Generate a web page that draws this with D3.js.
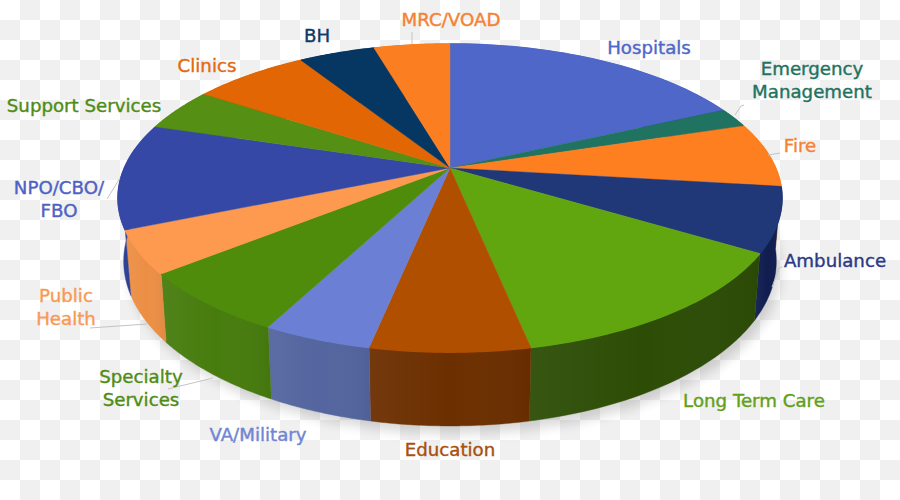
<!DOCTYPE html>
<html><head><meta charset="utf-8">
<script src="https://cdn.jsdelivr.net/npm/d3@7/dist/d3.min.js"></script>
<style>html,body{margin:0;padding:0;background:#fff}svg{display:block}text{font-family:"DejaVu Sans",sans-serif}</style>
</head><body><svg id="c" width="900" height="500"></svg>
<script>
const categories = ["Hospitals","Emergency Management","Fire","Ambulance","Long Term Care","Education","VA/Military","Specialty Services","Public Health","NPO/CBO/FBO","Support Services","Clinics","BH","MRC/VOAD"];
const shares = [18.08,2.06,6.78,6.75,13.11,6.44,4.42,6.56,4.47,11.08,4.53,6.78,4.47,4.47];
const topColors = ["#4f67c8","#1f7360","#fd7f20","#203778","#62a60f","#b14f00","#6b80d4","#4f8c0c","#fd9a4f","#3548a5","#558f13","#e26603","#063763","#fb7e20"];
const wallColors = ["#33437f","#124238","#b05510","#0f1d4f","#2d4d06","#6c2f00","#54659f","#477c0e","#ec8f45","#2a3c90","#3a630c","#9a4502","#03223e","#aa5512"];
const labelColors = ["#4f67c8","#1f7360","#f58233","#2a3a85","#62a01a","#a8500f","#7085d2","#4f8c14","#f89a55","#4f62c4","#4f8c14","#e26a10","#0f3a64","#f58233"];
const labelLines = [["Hospitals"],["Emergency","Management"],["Fire"],["Ambulance"],["Long Term Care"],["Education"],["VA/Military"],["Specialty","Services"],["Public","Health"],["NPO/CBO/","FBO"],["Support Services"],["Clinics"],["BH"],["MRC/VOAD"]];
const labelX = [649,812,800,835,754,450,258,141,66,59,84,207,317,451];
const labelY = [48,69,146,261,401,450,435,377,296,188,106,66,36,20];
const leaders = [[[735,115],[741,106],[744,105]],[[768,155],[780,153]],[[772,287],[779,268],[782,267]],[[168,389],[213,378]],[[90,328],[147,324]],[[107,199],[120,178]],[[412,32],[412,44]]];

const svg = d3.select("#c");
const defs = svg.append("defs");
const pat = defs.append("pattern").attr("id","chk").attr("width",40).attr("height",40).attr("patternUnits","userSpaceOnUse");
pat.append("rect").attr("width",40).attr("height",40).attr("fill","#fff");
pat.append("rect").attr("x",20).attr("y",0).attr("width",20).attr("height",20).attr("fill","#f0f0f0");
pat.append("rect").attr("x",0).attr("y",20).attr("width",20).attr("height",20).attr("fill","#f0f0f0");
svg.append("rect").attr("width",900).attr("height",500).attr("fill","url(#chk)");
defs.append("filter").attr("id","blur").attr("x","-20%").attr("y","-20%").attr("width","140%").attr("height","140%")
  .append("feGaussianBlur").attr("stdDeviation",6);
const wg = defs.append("linearGradient").attr("id","sheen").attr("x1",0).attr("x2",1).attr("y1",0).attr("y2",0);
[[0,"#fff",0.05],[0.5,"#fff",0.0],[1,"#000",0.05]].forEach(s=>wg.append("stop").attr("offset",s[0]).attr("stop-color",s[1]).attr("stop-opacity",s[2]));

// perspective projection of the disc
const cx=450, cy=168, A=325.6, B=148.2, K=0.195;
function rimTop(t,r=1){const u=r*Math.sin(t),v=-r*Math.cos(t),w=1-K*v;return [cx+A*u/w,cy+B*v/w];}
function rimBottom(t){const p=rimTop(t);return [cx+(p[0]-cx)*0.983,cy+(p[1]-cy)*1.07+61];}
const arcs=d3.pie().sort(null).value(d=>d)(shares);
const line=d3.line();
const samples=(a,b)=>d3.range(0,41).map(i=>a+(b-a)*i/40);

// soft shadow
svg.append("path").attr("d",line(samples(0,2*Math.PI).map(t=>{const p=rimBottom(t);return [p[0]+5,p[1]+8];}))+"Z")
  .attr("fill","#000").attr("opacity",0.15).attr("filter","url(#blur)");

// walls
const walls=svg.append("g");
walls.selectAll("path.w").data(arcs).join("path").attr("class","w")
  .attr("d",d=>{const s=samples(d.startAngle,d.endAngle);return line(s.map(t=>rimTop(t)).concat(s.slice().reverse().map(rimBottom)))+"Z";})
  .attr("fill",(d,i)=>wallColors[i]).attr("stroke",(d,i)=>wallColors[i]).attr("stroke-width",0.4);
walls.selectAll("path.s").data(arcs).join("path").attr("class","s")
  .attr("d",d=>{const s=samples(d.startAngle,d.endAngle);return line(s.map(t=>rimTop(t)).concat(s.slice().reverse().map(rimBottom)))+"Z";})
  .attr("fill","url(#sheen)");

// top faces
svg.append("g").selectAll("path").data(arcs).join("path")
  .attr("d",d=>line([[cx,cy]].concat(samples(d.startAngle,d.endAngle).map(t=>rimTop(t))))+"Z")
  .attr("fill",(d,i)=>topColors[i]).attr("stroke",(d,i)=>topColors[i]).attr("stroke-width",0.4);

// rim highlight along the front edge
svg.append("g").selectAll("path").data(arcs).join("path")
  .attr("d",d=>line(samples(d.startAngle,d.endAngle).map(t=>rimTop(t))))
  .attr("fill","none").attr("stroke",(d,i)=>topColors[i]).attr("stroke-width",1.6);

// leaders
svg.append("g").selectAll("path").data(leaders).join("path").attr("d",d=>line(d))
  .attr("fill","none").attr("stroke","#c4c4c4").attr("stroke-width",1);

// labels
const lab=svg.append("g").attr("text-anchor","middle").attr("font-size",18.2);
categories.forEach((c,i)=>{
  const t=lab.append("text").attr("fill",labelColors[i]).attr("stroke",labelColors[i]).attr("stroke-width",0.4);
  labelLines[i].forEach((s,j)=>t.append("tspan").attr("x",labelX[i]).attr("y",labelY[i]+j*23).attr("dy","0.35em").text(s));
});
</script></body></html>
